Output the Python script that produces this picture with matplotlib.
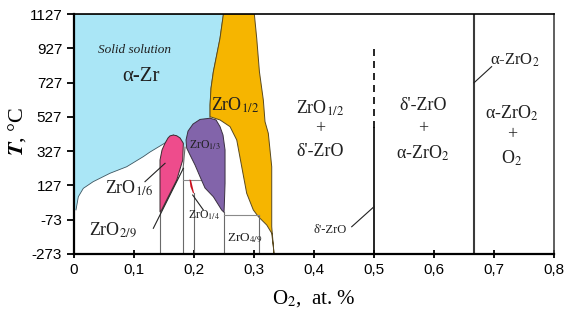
import matplotlib.pyplot as plt
from matplotlib.patches import Polygon

plt.rcParams['font.family'] = ['Liberation Serif', 'DejaVu Serif']
plt.rcParams['mathtext.fontset'] = 'stix'
plt.rcParams['axes.unicode_minus'] = False

# axes
t_ticks = [-273, -73, 127, 327, 527, 727, 927, 1127]
x_ticks = [0, 0.1, 0.2, 0.3, 0.4, 0.5, 0.6, 0.7, 0.8]
x_labels = ['0', '0,1', '0,2', '0,3', '0,4', '0,5', '0,6', '0,7', '0,8']

# alpha-Zr solid solution field (x = O fraction, T in C)
azr_x = [0, 0.249, 0.2433, 0.2378, 0.2322, 0.2283, 0.2267, 0.2267, 0.205, 0.19,
         0.185, 0.178, 0.1655, 0.16, 0.1433, 0.1267, 0.1155, 0.0878, 0.06, 0.032,
         0.0155, 0.0072, 0.0033, 0]
azr_t = [1127, 1127, 985, 888, 790, 694, 596, 519, 480, 400,
         345, 390, 421, 392, 357, 322, 295, 236, 198, 149,
         110, 61, -16, -16]

# ZrO1/6 (pink)
z16_x = [0.1655, 0.171, 0.1767, 0.1822, 0.1812, 0.1712, 0.157, 0.146, 0.1433,
         0.1433, 0.1433, 0.1433, 0.1467, 0.1517, 0.1567, 0.160]
z16_t = [421, 417, 404, 373, 275, 159, 61, -16, -28,
         61, 139, 275, 334, 373, 404, 416]

# ZrO1/3 (purple)
z13_x = [0.2267, 0.2367, 0.2433, 0.2483, 0.2517, 0.2517, 0.2508, 0.25, 0.246,
         0.2322, 0.2183, 0.21, 0.2017, 0.1933, 0.1878, 0.1867, 0.19, 0.1983, 0.21]
z13_t = [519, 509, 470, 421, 334, 139, 42, -30, -16,
         61, 112, 178, 246, 305, 345, 392, 444, 485, 512]

# ZrO1/2 (orange)
z12_x = [0.249, 0.3005, 0.3045, 0.309, 0.3155, 0.3183, 0.3238, 0.3295, 0.3295, 0.3333,
         0.3322, 0.3295, 0.3212, 0.3072, 0.2988, 0.2878, 0.2795, 0.2712, 0.26, 0.2433,
         0.2267, 0.2267, 0.2283, 0.2322, 0.2378, 0.2433]
z12_t = [1127, 1127, 985, 790, 625, 499, 431, 236, -114, -273,
         -230, -152, -104, -55, -16, 81, 236, 392, 470, 509,
         528, 596, 694, 790, 888, 985]

# ZrO1/4 (thin red field)
z14_x = [0.1925, 0.195, 0.2, 0.1985, 0.194]
z14_t = [162, 158, 84, 80, 120]

# stoichiometric compositions: (x, T bottom, T top)
v_lines = [(1 / 7, -273, -28), (2 / 11, -273, 227), (0.2, -273, 80),
           (0.25, -273, -30), (4 / 13, -273, -45)]
# eutectoid-type horizontals: (T, x from, x to)
h_lines = [(159, 2 / 11, 0.2155), (-45, 0.25, 4 / 13)]

fig = plt.figure(figsize=(5.65, 3.22), dpi=100)
ax = fig.add_axes([0.131, 0.2112, 0.8496, 0.7453])

ax.add_patch(Polygon(list(zip(azr_x, azr_t)), closed=True, fc='#aae6f6', ec='none', zorder=1))
ax.plot(azr_x[12:23], azr_t[12:23], color='#3c5560', lw=0.6, zorder=2)
ax.plot(azr_x[:8], azr_t[:8], color='#6a5a20', lw=0.6, zorder=2)

ax.add_patch(Polygon(list(zip(z16_x, z16_t)), closed=True, fc='#ee4c8c', ec='#3a2a30', lw=0.7, zorder=3))
ax.add_patch(Polygon(list(zip(z13_x, z13_t)), closed=True, fc='#8264aa', ec='#3a3040', lw=0.7, zorder=3))
ax.add_patch(Polygon(list(zip(z12_x, z12_t)), closed=True, fc='#f6b500', ec='#5a4a20', lw=0.7, zorder=2))
ax.add_patch(Polygon(list(zip(z14_x, z14_t)), closed=True, fc='#c8101e', ec='none', zorder=3))

for x, t0, t1 in v_lines:
    ax.plot([x, x], [t0, t1], color='#6a6a6a', lw=0.8, zorder=2)
ax.plot([0.185, 2 / 11], [350, 227], color='#6a6a6a', lw=0.8, zorder=2)
for t, x0, x1 in h_lines:
    ax.plot([x0, x1], [t, t], color='#8a8a8a', lw=0.8, zorder=2)

# delta'-ZrO line and alpha-ZrO2 line
ax.plot([0.5, 0.5], [-273, 460], color='k', lw=1.2, zorder=2)
ax.plot([0.5, 0.5], [460, 921], color='k', lw=1.2, ls=(0, (4.2, 3)), zorder=2)
ax.plot([2 / 3, 2 / 3], [-273, 1127], color='#3a3a3a', lw=1.5, zorder=2)

# leader lines
leaders = [((0.1183, 0.1517), (149, 256)), ((0.1322, 0.1822), (-123, 227)),
           ((0.1978, 0.2155), (71, -16)), ((0.696, 2 / 3), (820, 726)),
           ((0.4628, 0.5), (-114, 3))]
for lx, lt in leaders:
    ax.plot(lx, lt, color='#222222', lw=0.8, zorder=4)

# labels
ax.text(0.1, 917, 'Solid solution', style='italic', fontsize=9.5, ha='center', va='center', color='#202020')
ax.text(0.1117, 760, 'α-Zr', fontsize=15, ha='center', va='center', color='#202020')
ax.text(0.268, 596, 'ZrO$_{1/2}$', fontsize=13, ha='center', va='center', color='#202020', zorder=5)
ax.text(0.218, 363, 'ZrO$_{1/3}$', fontsize=8.5, ha='center', va='center', color='#202020', zorder=5)
ax.text(0.0917, 112, 'ZrO$_{1/6}$', fontsize=13, ha='center', va='center', color='#202020', zorder=5)
ax.text(0.064, -130, 'ZrO$_{2/9}$', fontsize=13, ha='center', va='center', color='#202020', zorder=5)
ax.text(0.216, -45, 'ZrO$_{1/4}$', fontsize=8.5, ha='center', va='center', color='#202020', zorder=5)
ax.text(0.285, -180, 'ZrO$_{4/9}$', fontsize=9.5, ha='center', va='center', color='#202020', zorder=5)

stacks = [(0.41, ['ZrO$_{1/2}$', '+', "δ'-ZrO"], [577, 460, 324]),
          (0.582, ["δ'-ZrO", '+', 'α-ZrO$_2$'], [596, 460, 314]),
          (0.7295, ['α-ZrO$_2$', '+', 'O$_2$'], [548, 421, 285])]
for x, lines, ts in stacks:
    for s, t in zip(lines, ts):
        ax.text(x, t, s, fontsize=13, ha='center', va='center', color='#202020')

ax.text(0.735, 859, 'α-ZrO$_2$', fontsize=12, ha='center', va='center', color='#202020')
ax.text(0.4267, -133, "δ'-ZrO", fontsize=9, ha='center', va='center', color='#202020')

ax.set_xlim(0, 0.8)
ax.set_ylim(-273, 1127)
ax.set_xticks(x_ticks)
ax.set_xticklabels(x_labels)
ax.set_yticks(t_ticks)
for lab in ax.get_xticklabels() + ax.get_yticklabels():
    lab.set_family(['Liberation Sans', 'DejaVu Sans'])
    lab.set_fontsize(11)
ax.tick_params(axis='y', direction='out', length=5, width=1.3)
ax.tick_params(axis='x', direction='inout', length=6, width=1.3)
for side in ['left', 'bottom']:
    ax.spines[side].set_linewidth(1.6)
ax.spines['top'].set_linewidth(1.2)
ax.spines['right'].set_linewidth(1.2)
ax.spines['right'].set_color('#444444')

ax.set_xlabel('O$_2$,  at. %', fontsize=15, labelpad=8)
ax.set_ylabel(r'$\mathbfit{T}$, °C', fontsize=16)
ax.yaxis.set_label_coords(-0.096, 0.51)

fig.savefig('out.png', dpi=100)
